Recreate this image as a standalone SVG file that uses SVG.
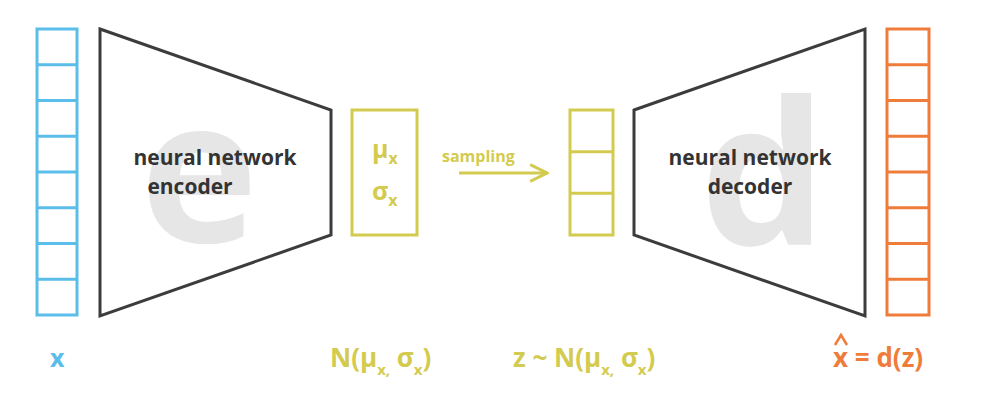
<svg xmlns="http://www.w3.org/2000/svg" width="992" height="404" viewBox="0 0 992 404">
<style>
text{font-family:"Open Sans","DejaVu Sans",sans-serif;font-weight:bold}
.b{fill:none;stroke:#5bbde9;stroke-width:3}
.y{fill:none;stroke:#d3cb4f;stroke-width:3}
.o{fill:none;stroke:#ef7c3b;stroke-width:3}
.nn{fill:#fff;stroke:#3c3c3c;stroke-width:3}
.big{font-size:200px;fill:#e6e6e6}
.lbl{font-size:21px;fill:#333}
.yt{fill:#d3cb4f}
</style>
<defs><marker id="ar" viewBox="0 0 10 10" refX="9" refY="5" markerWidth="7" markerHeight="7" orient="auto"><path d="M1,1 L9,5 L1,9" fill="none" stroke="#d3cb4f" stroke-width="1.4"/></marker></defs>
<rect width="992" height="404" fill="#fff"/>
<g id="input">
<rect class="b" x="37" y="29" width="40" height="286"/>
<path class="b" d="M37,64.75H77M37,100.5H77M37,136.25H77M37,172H77M37,207.75H77M37,243.5H77M37,279.25H77"/>
<text x="50" y="367" font-size="25" fill="#5bbde9">x</text>
</g>
<g id="encoder">
<polygon class="nn" points="100,29 331,110 331,235 100,316"/>
<text class="big" x="140" y="242">e</text>
<text class="lbl" x="215" y="165" text-anchor="middle">neural network</text>
<text class="lbl" x="190" y="194" text-anchor="middle">encoder</text>
</g>
<g id="params">
<rect class="y" x="352" y="110" width="65" height="125"/>
<text class="yt" x="372" y="158" font-size="25">μ<tspan font-size="16" dy="6">x</tspan></text>
<text class="yt" x="372" y="200" font-size="25">σ<tspan font-size="16" dy="6">x</tspan></text>
<text class="yt" x="330" y="367" font-size="26">N(μ<tspan font-size="15" dy="8">x,</tspan><tspan dy="-8"> σ</tspan><tspan font-size="15" dy="8">x</tspan><tspan dy="-8">)</tspan></text>
</g>
<g id="connectors">
<line x1="459" y1="173" x2="547" y2="173" stroke="#d3cb4f" stroke-width="3" marker-end="url(#ar)"/>
<text class="yt" x="442" y="162" font-size="16">sampling</text>
</g>
<g id="latent">
<rect class="y" x="570" y="110" width="43" height="125"/>
<path class="y" d="M570,151.7H613M570,193.3H613"/>
<text class="yt" x="513" y="367" font-size="26">z ~ N(μ<tspan font-size="15" dy="8">x,</tspan><tspan dy="-8"> σ</tspan><tspan font-size="15" dy="8">x</tspan><tspan dy="-8">)</tspan></text>
</g>
<g id="decoder">
<polygon class="nn" points="634,110 865,29 865,316 634,235"/>
<text class="big" x="700" y="245">d</text>
<text class="lbl" x="750" y="165" text-anchor="middle">neural network</text>
<text class="lbl" x="750" y="194" text-anchor="middle">decoder</text>
</g>
<g id="output">
<rect class="o" x="887" y="29" width="42" height="286"/>
<path class="o" d="M887,64.75H929M887,100.5H929M887,136.25H929M887,172H929M887,207.75H929M887,243.5H929M887,279.25H929"/>
<text x="833" y="367" font-size="26" fill="#ef7c3b">x = d(z)</text>
<path d="M835,345 L841,335 L847,345" fill="none" stroke="#ef7c3b" stroke-width="2.5"/>
</g>
</svg>
